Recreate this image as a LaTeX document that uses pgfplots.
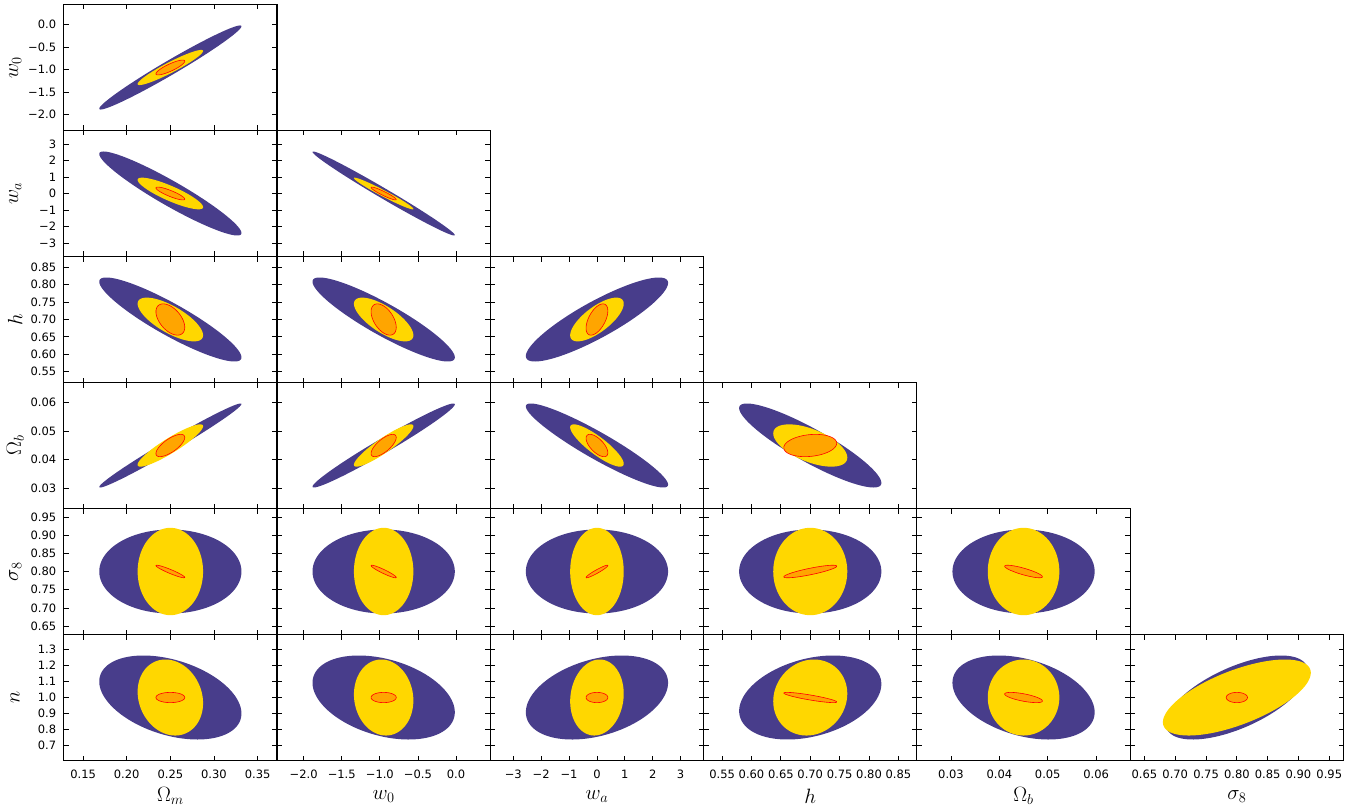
\documentclass[border=0pt]{standalone}
\usepackage{fontspec}
\setmainfont{DejaVu Sans}
\usepackage{pgfplots}
\pgfplotsset{compat=1.18}
\definecolor{purp}{RGB}{72,61,139}
\definecolor{gold}{RGB}{255,215,0}
\definecolor{orng}{RGB}{255,165,0}
% centre c, and half-widths of the contours of the three experiments P, Y, O
\def\cOm{0.25}  \def\POm{0.0815} \def\YOm{0.0375} \def\OOm{0.0165}
\def\cwz{-0.95} \def\Pwz{0.934}  \def\Ywz{0.39}   \def\Owz{0.165}
\def\cwa{0}     \def\Pwa{2.55}   \def\Ywa{0.96}   \def\Owa{0.39}
\def\ch{0.7}    \def\Ph{0.121}   \def\Yh{0.063}   \def\Oh{0.045}
\def\cOb{0.045} \def\POb{0.0147} \def\YOb{0.0074} \def\OOb{0.0039}
\def\cs{0.8}    \def\Ps{0.1154}  \def\Ys{0.120}   \def\Os{0.0172}
\def\cn{1.0}    \def\Pn{0.263}   \def\Yn{0.238}   \def\On{0.032}
\pgfplotsset{
  panel/.style={width=213.3pt,height=126pt,scale only axis,anchor=north west,
    xticklabels={},yticklabels={},tick align=inside,major tick length=5pt,
    scaled ticks=false,
    every tick/.style={black,line width=0.8pt},axis line style={line width=1.1pt},
    tick label style={font=\fontsize{11.5}{13}\selectfont},
    xticklabel style={yshift=-7pt,inner sep=2pt},yticklabel style={xshift=-4pt},
    every axis x label/.style={font=\huge,at={(axis description cs:0.5,-0.283)},anchor=center,inner sep=1pt},
    every axis y label/.style={font=\huge,at={(axis description cs:-0.227,0.5)},rotate=90,anchor=center}},
  xOm/.style={xmin=0.12775,xmax=0.37225,xtick={0.15,0.2,0.25,0.3,0.35}},
  yOm/.style={ymin=0.12775,ymax=0.37225,ytick={0.15,0.2,0.25,0.3,0.35}},
  xwz/.style={xmin=-2.35,xmax=0.45,xtick={-2,-1.5,-1,-0.5,0}},
  ywz/.style={ymin=-2.35,ymax=0.45,ytick={-2,-1.5,-1,-0.5,0}},
  xwa/.style={xmin=-3.825,xmax=3.825,xtick={-3,-2,-1,0,1,2,3}},
  ywa/.style={ymin=-3.825,ymax=3.825,ytick={-3,-2,-1,0,1,2,3}},
  xh/.style={xmin=0.5185,xmax=0.8815,xtick={0.55,0.6,0.65,0.7,0.75,0.8,0.85}},
  yh/.style={ymin=0.5185,ymax=0.8815,ytick={0.55,0.6,0.65,0.7,0.75,0.8,0.85}},
  xOb/.style={xmin=0.02295,xmax=0.06705,xtick={0.03,0.04,0.05,0.06}},
  yOb/.style={ymin=0.02295,ymax=0.06705,ytick={0.03,0.04,0.05,0.06}},
  xs/.style={xmin=0.6269,xmax=0.9731,xtick={0.65,0.7,0.75,0.8,0.85,0.9,0.95}},
  ys/.style={ymin=0.6269,ymax=0.9731,ytick={0.65,0.7,0.75,0.8,0.85,0.9,0.95}},
  xn/.style={xmin=0.6055,xmax=1.3945,xtick={0.7,0.8,0.9,1,1.1,1.2,1.3}},
  yn/.style={ymin=0.6055,ymax=1.3945,ytick={0.7,0.8,0.9,1,1.1,1.2,1.3}},
  xlabOm/.style={xticklabels={0.15,0.20,0.25,0.30,0.35},xlabel={$\Omega_m$}},
  xlabwz/.style={xticklabels={−2.0,−1.5,−1.0,−0.5,0.0},xlabel={$w_0$}},
  xlabwa/.style={xticklabels={−3,−2,−1,0,1,2,3},xlabel={$w_a$}},
  xlabh/.style={xticklabels={0.55,0.60,0.65,0.70,0.75,0.80,0.85},xlabel={$h$}},
  xlabOb/.style={xticklabels={0.03,0.04,0.05,0.06},xlabel={$\Omega_b$}},
  xlabs/.style={xticklabels={0.65,0.70,0.75,0.80,0.85,0.90,0.95},xlabel={$\sigma_8$}},
  ylabwz/.style={yticklabels={−2.0,−1.5,−1.0,−0.5,0.0},ylabel={$w_0$}},
  ylabwa/.style={yticklabels={−3,−2,−1,0,1,2,3},ylabel={$w_a$}},
  ylabh/.style={yticklabels={0.55,0.60,0.65,0.70,0.75,0.80,0.85},ylabel={$h$}},
  ylabOb/.style={yticklabels={0.03,0.04,0.05,0.06},ylabel={$\Omega_b$}},
  ylabs/.style={yticklabels={0.65,0.70,0.75,0.80,0.85,0.90,0.95},ylabel={$\sigma_8$}},
  ylabn/.style={yticklabels={0.7,0.8,0.9,1.0,1.1,1.2,1.3},ylabel={$n$}},
}
% contour of one experiment: style, x parameter, y parameter, experiment, correlation
\newcommand{\ellip}[5]{%
  \addplot[#1,domain=0:360,samples=145]
    ({\csname c#2\endcsname+\csname #4#2\endcsname*cos(x)},
     {\csname c#3\endcsname+\csname #4#3\endcsname*((#5)*cos(x)+sqrt(1-(#5)^2)*sin(x))});}
% column, row, x parameter, y parameter, extra options, correlations P, Y, O
\newcommand{\panel}[8]{%
  \begin{axis}[panel,at={({63.7pt+213.3pt*(#1-1)},{-4.5pt-126pt*(#2-1)})},x#3,y#4,#5]
  \ellip{fill=purp,draw=none}{#3}{#4}{P}{#6}
  \ellip{fill=gold,draw=none}{#3}{#4}{Y}{#7}
  \ellip{fill=orng,draw=red,line width=0.6pt}{#3}{#4}{O}{#8}
  \end{axis}}
\begin{document}
\begin{tikzpicture}
\useasboundingbox (0,0) rectangle (1365pt,-805pt);
\panel{1}{1}{Om}{wz}{ylabwz}{0.98}{0.94}{0.85}
\panel{1}{2}{Om}{wa}{ylabwa}{-0.94}{-0.86}{-0.87}
\panel{2}{2}{wz}{wa}{}{-0.99}{-0.975}{-0.94}
\panel{1}{3}{Om}{h}{ylabh}{-0.9}{-0.72}{-0.5}
\panel{2}{3}{wz}{h}{}{-0.9}{-0.72}{-0.5}
\panel{3}{3}{wa}{h}{}{0.87}{0.72}{0.55}
\panel{1}{4}{Om}{Ob}{ylabOb}{0.987}{0.91}{0.72}
\panel{2}{4}{wz}{Ob}{}{0.98}{0.91}{0.72}
\panel{3}{4}{wa}{Ob}{}{-0.93}{-0.86}{-0.65}
\panel{4}{4}{h}{Ob}{}{-0.89}{-0.57}{0.2}
\panel{1}{5}{Om}{s}{ylabs}{0}{0}{-0.94}
\panel{2}{5}{wz}{s}{}{0}{0}{-0.94}
\panel{3}{5}{wa}{s}{}{0}{0}{0.95}
\panel{4}{5}{h}{s}{}{0}{0}{0.85}
\panel{5}{5}{Ob}{s}{}{0}{0}{-0.84}
\panel{1}{6}{Om}{n}{xlabOm,ylabn}{-0.38}{-0.15}{0}
\panel{2}{6}{wz}{n}{xlabwz}{-0.35}{-0.08}{0}
\panel{3}{6}{wa}{n}{xlabwa}{0.35}{0.1}{0}
\panel{4}{6}{h}{n}{xlabh}{0.32}{0.1}{-0.87}
\panel{5}{6}{Ob}{n}{xlabOb}{-0.35}{0}{-0.68}
\panel{6}{6}{s}{n}{xlabs}{0.62}{0.65}{0}
\end{tikzpicture}
\end{document}
